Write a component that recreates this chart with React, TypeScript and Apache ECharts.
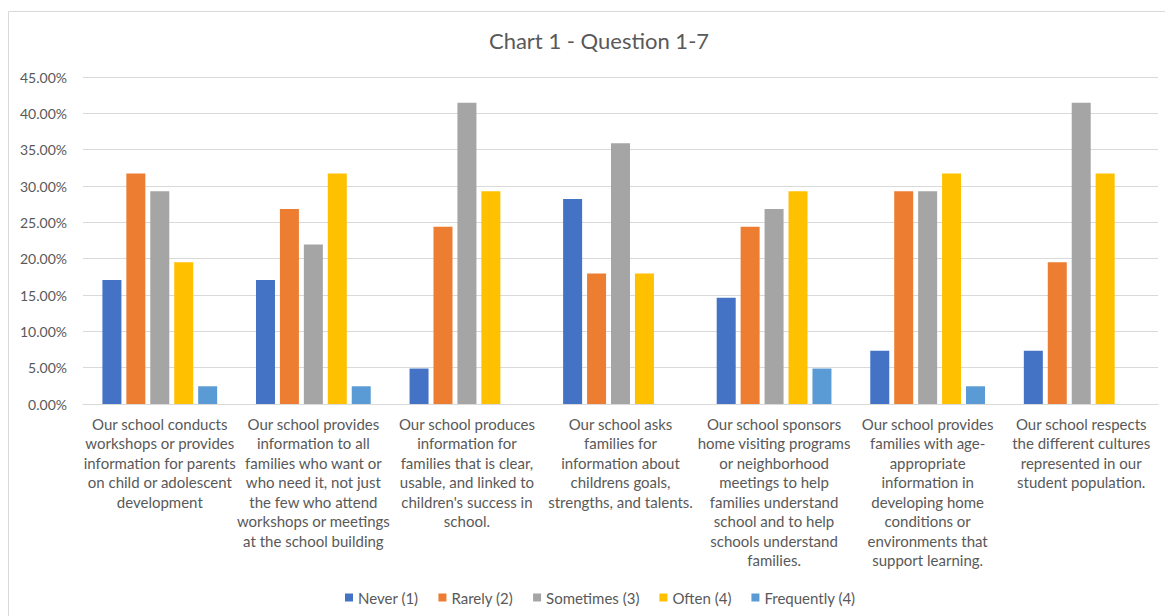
import React, { useEffect, useRef } from "react";
import * as echarts from "echarts";

const categories = [
  "Our school conducts\nworkshops or provides\ninformation for parents\non child or adolescent\ndevelopment",
  "Our school provides\ninformation to all\nfamilies who want or\nwho need it, not just\nthe few who attend\nworkshops or meetings\nat the school building",
  "Our school produces\ninformation for\nfamilies that is clear,\nusable, and linked to\nchildren's success in\nschool.",
  "Our school asks\nfamilies for\ninformation about\nchildrens goals,\nstrengths, and talents.",
  "Our school sponsors\nhome visiting programs\nor neighborhood\nmeetings to help\nfamilies understand\nschool and to help\nschools understand\nfamilies.",
  "Our school provides\nfamilies with age-\nappropriate\ninformation in\ndeveloping home\nconditions or\nenvironments that\nsupport learning.",
  "Our school respects\nthe different cultures\nrepresented in our\nstudent population.",
];

const seriesNames = ["Never (1)", "Rarely (2)", "Sometimes (3)", "Often (4)", "Frequently (4)"];
const seriesColors = ["#4472C4", "#ED7D31", "#A5A5A5", "#FFC000", "#5B9BD5"];

// Share of responses (%) per question
const never = [17.07, 17.07, 4.88, 28.21, 14.63, 7.32, 7.32];
const rarely = [31.71, 26.83, 24.39, 17.95, 24.39, 29.27, 19.51];
const sometimes = [29.27, 21.95, 41.46, 35.9, 26.83, 29.27, 41.46];
const often = [19.51, 31.71, 29.27, 17.95, 29.27, 31.71, 31.71];
const frequently = [2.44, 2.44, 0, 0, 4.88, 2.44, 0];

const seriesValues = [never, rarely, sometimes, often, frequently];

const FONT = "Lato, 'Open Sans', sans-serif";
const TEXT = "#595959";

export default function App() {
  const ref = useRef<HTMLDivElement>(null);

  useEffect(() => {
    if (!ref.current) return;
    const chart = echarts.init(ref.current, undefined, { renderer: "svg" });
    chart.setOption({
      animation: false,
      backgroundColor: "#ffffff",
      textStyle: { fontFamily: FONT },
      title: {
        text: "Chart 1 - Question 1-7",
        left: 594,
        textAlign: "center",
        top: 24,
        textStyle: { fontFamily: FONT, fontSize: 22, fontWeight: "normal", color: TEXT },
      },
      graphic: [
        {
          type: "rect",
          shape: { x: 8.5, y: 11.5, width: 1200, height: 620 },
          style: { fill: "none", stroke: "#D9D9D9", lineWidth: 1 },
          silent: true,
          z: -1,
        },
      ],
      legend: {
        data: seriesNames,
        top: 585,
        left: 340,
        itemWidth: 8,
        itemHeight: 8,
        itemGap: 20,
        icon: "rect",
        textStyle: { fontFamily: FONT, fontSize: 15, color: TEXT },
      },
      grid: { left: 83, right: 7, top: 77, bottom: 212, containLabel: false },
      xAxis: {
        type: "category",
        data: categories,
        axisLine: { lineStyle: { color: "#D9D9D9" } },
        axisTick: { show: false },
        axisLabel: {
          interval: 0,
          margin: 10,
          lineHeight: 19.5,
          fontFamily: FONT,
          fontSize: 15,
          color: TEXT,
          align: "center",
        },
      },
      yAxis: {
        type: "value",
        min: 0,
        max: 45,
        interval: 5,
        axisLine: { show: false },
        axisTick: { show: false },
        splitLine: { lineStyle: { color: "#D9D9D9" } },
        axisLabel: {
          margin: 16,
          fontFamily: FONT,
          fontSize: 14,
          color: TEXT,
          formatter: (v: number) => v.toFixed(2) + "%",
        },
      },
      series: seriesNames.map((name, i) => ({
        name,
        type: "bar",
        data: seriesValues[i],
        barWidth: 19,
        barGap: "26%",
        itemStyle: { color: seriesColors[i] },
      })),
    });
    return () => chart.dispose();
  }, []);

  return (
    <div
      ref={ref}
      style={{ position: "absolute", left: 0, top: 0, width: 1165, height: 616 }}
    />
  );
}
